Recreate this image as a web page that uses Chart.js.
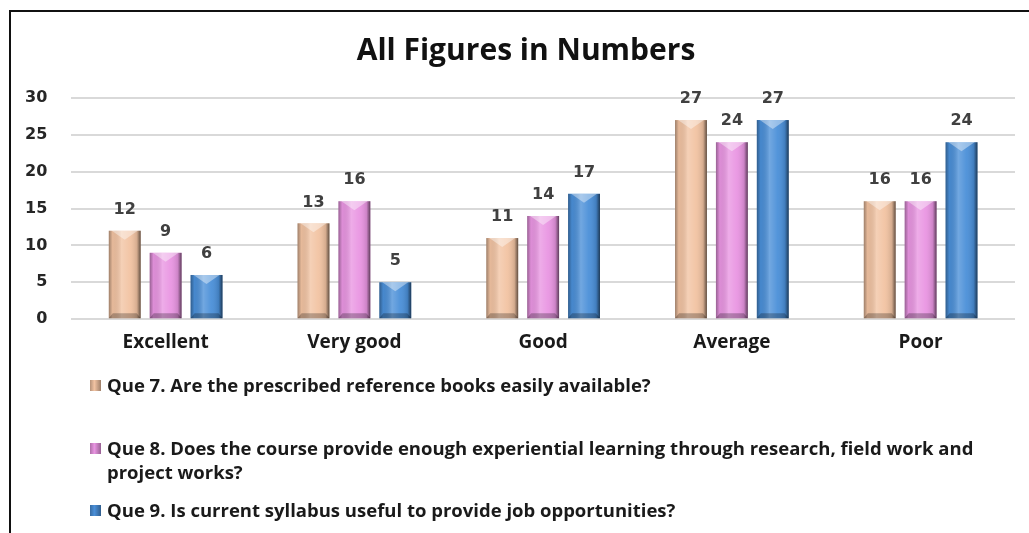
<!DOCTYPE html>
<html>
<head>
<meta charset="utf-8">
<script src="https://cdn.jsdelivr.net/npm/chart.js@4.4.1/dist/chart.umd.min.js"></script>
<style>
  html, body { margin: 0; padding: 0; background: #fff; }
  #wrap { position: relative; width: 1029px; height: 533px; overflow: hidden; }
  #frame { position: absolute; left: 9px; top: 10px; right: -10px; bottom: -10px;
           border-left: 2px solid #111; border-top: 2px solid #111; }
  canvas { position: absolute; left: 0; top: 0; }
  .leg { position: absolute; left: 90px; width: 910px; font: 700 18.5px "Open Sans", sans-serif;
         line-height: 24px; color: #1a1a1a; }
  .leg .sw { position: absolute; left: 0; top: 7px; width: 11px; height: 11px; }
  .leg .tx { margin-left: 17px; }
</style>
</head>
<body>
<div id="wrap">
  <div id="frame"></div>
  <canvas id="barChart" width="1029" height="533"></canvas>
  <div id="legend"></div>
</div>
<script>
  // chart data
  const categories = ['Excellent', 'Very good', 'Good', 'Average', 'Poor'];
  const que7 = [12, 13, 11, 27, 16];
  const que8 = [9, 16, 14, 24, 16];
  const que9 = [6, 5, 17, 27, 24];
  const seriesNames = [
    'Que 7. Are the prescribed reference books easily available?',
    'Que 8. Does the course provide enough experiential learning through research, field work and project works?',
    'Que 9. Is current syllabus useful to provide job opportunities?'
  ];
  const chartTitle = 'All Figures in Numbers';
  const seriesColors = ['#f2c3a2', '#e995e2', '#4a8fd8'];

  // shading + value labels on the bars, and the title
  const barLook = {
    id: 'barLook',
    afterDatasetsDraw(chart) {
      const ctx = chart.ctx;
      ctx.save();
      chart.data.datasets.forEach((ds, di) => {
        const meta = chart.getDatasetMeta(di);
        meta.data.forEach((bar, i) => {
          const p = bar.getProps(['x', 'y', 'base', 'width'], true);
          const l = p.x - p.width / 2, r = p.x + p.width / 2;
          const g = ctx.createLinearGradient(l, 0, r, 0);
          g.addColorStop(0, 'rgba(0,0,0,0.35)');
          g.addColorStop(0.12, 'rgba(0,0,0,0.05)');
          g.addColorStop(0.4, 'rgba(255,255,255,0.22)');
          g.addColorStop(0.65, 'rgba(255,255,255,0.05)');
          g.addColorStop(0.88, 'rgba(0,0,0,0.12)');
          g.addColorStop(1, 'rgba(0,0,0,0.6)');
          ctx.fillStyle = g;
          ctx.fillRect(l, p.y, p.width, p.base - p.y);
          // top bevel
          const bv = Math.min(9, (p.base - p.y) / 3);
          ctx.fillStyle = 'rgba(255,255,255,0.4)';
          ctx.beginPath();
          ctx.moveTo(l + 3, p.y);
          ctx.lineTo(r - 3, p.y);
          ctx.lineTo(p.x, p.y + bv);
          ctx.closePath();
          ctx.fill();
          // bottom shadow
          ctx.fillStyle = 'rgba(0,0,0,0.25)';
          ctx.beginPath();
          ctx.moveTo(l, p.base);
          ctx.lineTo(r, p.base);
          ctx.lineTo(r - 4, p.base - 5);
          ctx.lineTo(l + 4, p.base - 5);
          ctx.closePath();
          ctx.fill();
          // value label
          ctx.fillStyle = '#404040';
          ctx.font = 'bold 16px "DejaVu Sans", sans-serif';
          ctx.textAlign = 'center';
          ctx.textBaseline = 'middle';
          ctx.fillText(ds.data[i], p.x, p.y - 21);
        });
      });
      // title
      ctx.fillStyle = '#111';
      ctx.font = 'bold 30px "Open Sans", sans-serif';
      ctx.textAlign = 'center';
      ctx.textBaseline = 'middle';
      ctx.fillText(chartTitle, 526, 51);
      ctx.restore();
    }
  };

  const chartData = {
    labels: categories,
    datasets: [que7, que8, que9].map((vals, k) => ({
      label: seriesNames[k],
      data: vals,
      backgroundColor: seriesColors[k],
      borderWidth: 0,
      categoryPercentage: 0.65,
      barPercentage: 0.78
    }))
  };

  const ctx = document.getElementById('barChart').getContext('2d');
  new Chart(ctx, {
    type: 'bar',
    data: chartData,
    plugins: [barLook],
    options: {
      responsive: false,
      animation: false,
      layout: { padding: { left: 1, right: 14, top: 98, bottom: 175 } },
      plugins: {
        legend: { display: false },
        tooltip: { enabled: false },
        title: { display: false }
      },
      scales: {
        x: {
          grid: { display: false },
          border: { display: false },
          ticks: {
            color: '#1a1a1a',
            padding: 4,
            font: { family: '"Open Sans", sans-serif', size: 19, weight: 'bold' }
          }
        },
        y: {
          min: 0, max: 30,
          grid: { color: '#d9d9d9', lineWidth: 2, drawTicks: false },
          border: { display: false },
          ticks: {
            stepSize: 5,
            color: '#262626',
            padding: 24,
            font: { family: '"DejaVu Sans", sans-serif', size: 16, weight: 'bold' }
          }
        }
      }
    }
  });

  // legend below the chart, text wraps like the original
  const legendTops = [373, 436, 498];
  const legend = document.getElementById('legend');
  seriesNames.forEach((name, k) => {
    const item = document.createElement('div');
    item.className = 'leg';
    item.style.top = legendTops[k] + 'px';
    const sw = document.createElement('span');
    sw.className = 'sw';
    sw.style.background = 'linear-gradient(90deg, rgba(0,0,0,0.25), ' + seriesColors[k] + ' 40%, rgba(0,0,0,0.35))';
    sw.style.backgroundColor = seriesColors[k];
    const tx = document.createElement('div');
    tx.className = 'tx';
    tx.textContent = name;
    item.appendChild(sw);
    item.appendChild(tx);
    legend.appendChild(item);
  });
</script>
</body>
</html>
